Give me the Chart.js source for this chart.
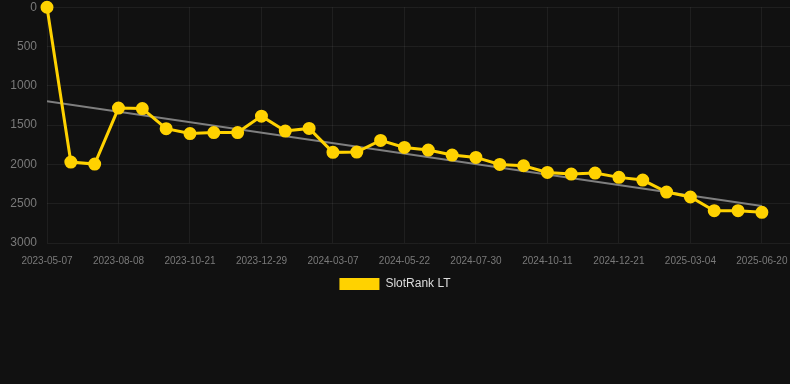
<!DOCTYPE html>
<html>
<head>
<meta charset="utf-8">
<script src="https://cdn.jsdelivr.net/npm/chart.js@4.4.1/dist/chart.umd.min.js"></script>
<style>
  html, body { margin: 0; padding: 0; background: #111111; }
  #wrap { width: 790px; height: 300px; position: relative; }
</style>
</head>
<body>
<div id="wrap"><canvas id="chart"></canvas></div>
<script>
// dates for each point (only every third one is shown on the axis)
const dates = [
  "2023-05-07", "2023-06-07", "2023-07-08", "2023-08-08", "2023-09-02", "2023-09-27",
  "2023-10-21", "2023-11-13", "2023-12-06", "2023-12-29", "2024-01-21", "2024-02-13",
  "2024-03-07", "2024-04-01", "2024-04-26", "2024-05-22", "2024-06-14", "2024-07-07",
  "2024-07-30", "2024-08-24", "2024-09-17", "2024-10-11", "2024-11-04", "2024-11-28",
  "2024-12-21", "2025-01-14", "2025-02-08", "2025-03-04", "2025-04-08", "2025-05-14",
  "2025-06-20"
];

const rank = [
  1, 1970, 1996, 1284, 1290, 1545, 1608, 1595, 1595, 1386, 1576, 1542,
  1847, 1843, 1695, 1784, 1818, 1881, 1911, 2000, 2017, 2102, 2123, 2110,
  2165, 2199, 2352, 2415, 2589, 2589, 2610
];

// trend line, start and end value
const trend = [1195, 2530];

const yTicks = [0, 500, 1000, 1500, 2000, 2500, 3000];

const YELLOW = "#ffd200";
const GRID = "rgba(255,255,255,0.06)";
const TICK = "#7a7a7a";

Chart.defaults.font.family = "Helvetica, Arial, 'Liberation Sans', sans-serif";

const rankPoints = rank.map((v, i) => ({ x: i, y: v }));
const trendPoints = [
  { x: 0, y: trend[0] },
  { x: dates.length - 1, y: trend[1] }
];

const defaultLabels = Chart.defaults.plugins.legend.labels.generateLabels;

new Chart(document.getElementById("chart"), {
  type: "line",
  data: {
    datasets: [
      {
        label: "SlotRank LT",
        data: rankPoints,
        borderColor: YELLOW,
        backgroundColor: YELLOW,
        borderWidth: 3,
        pointRadius: 5,
        pointBackgroundColor: YELLOW,
        pointBorderColor: YELLOW,
        tension: 0,
        clip: false,
        order: 1
      },
      {
        label: "trend",
        data: trendPoints,
        borderColor: "#7f7f7f",
        borderWidth: 2,
        pointRadius: 0,
        fill: false,
        order: 2
      }
    ]
  },
  options: {
    responsive: true,
    maintainAspectRatio: false,
    animation: false,
    layout: { autoPadding: false, padding: 0 },
    scales: {
      x: {
        type: "linear",
        min: 0,
        max: 31.18,
        afterBuildTicks: (scale) => {
          scale.ticks = dates
            .map((d, i) => ({ value: i }))
            .filter((t) => t.value % 3 === 0);
        },
        ticks: {
          autoSkip: false,
          maxRotation: 0,
          padding: 1,
          color: TICK,
          font: { size: 10 },
          callback: (v) => dates[v] || ""
        },
        grid: { color: GRID, drawTicks: true, tickLength: 11, tickColor: "transparent" },
        border: { display: false }
      },
      y: {
        reverse: true,
        min: 0,
        max: 3000,
        afterBuildTicks: (scale) => {
          scale.ticks = yTicks.map((v) => ({ value: v }));
        },
        afterFit: (scale) => { scale.width = 47; },
        ticks: {
          padding: 0,
          color: TICK,
          font: { size: 12 },
          callback: (v) => String(v)
        },
        grid: { color: GRID, drawTicks: true, tickLength: 10, tickColor: "transparent" },
        border: { display: false }
      }
    },
    plugins: {
      legend: {
        position: "bottom",
        labels: {
          color: "#dddddd",
          font: { size: 12 },
          boxWidth: 40,
          boxHeight: 12,
          filter: (item) => item.text !== "trend",
          generateLabels: (chart) =>
            defaultLabels(chart).map((l) => Object.assign(l, { lineWidth: 0 }))
        }
      },
      tooltip: { enabled: false }
    }
  }
});
</script>
</body>
</html>
